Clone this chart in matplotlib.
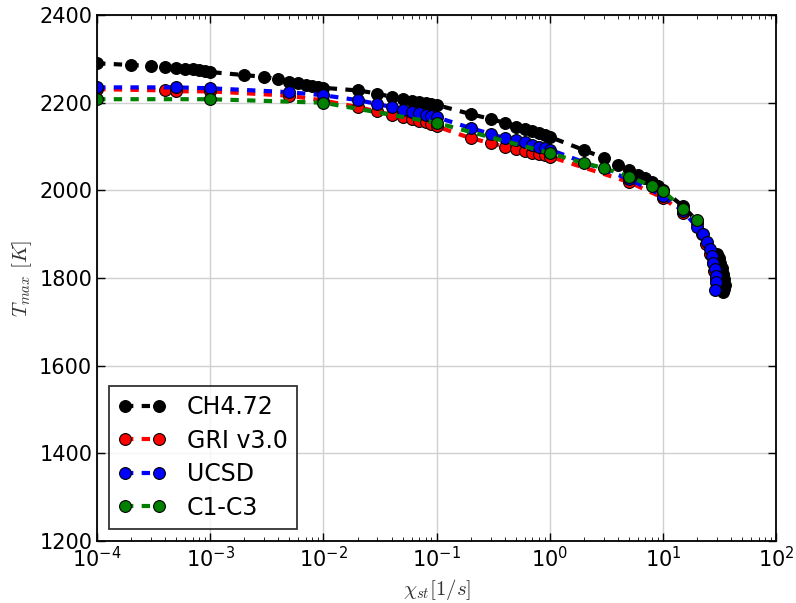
import matplotlib
matplotlib.use('Agg')
import matplotlib.pyplot as plt

plt.rcParams['xtick.direction'] = 'in'
plt.rcParams['ytick.direction'] = 'in'
plt.rcParams['xtick.top'] = True
plt.rcParams['ytick.right'] = True
plt.rcParams['lines.scale_dashes'] = False
plt.rcParams['mathtext.fontset'] = 'cm'

# CH4.72
chi_ch4 = [1e-4, 2e-4, 3e-4, 4e-4, 5e-4, 6e-4, 7e-4, 8e-4, 9e-4, 1e-3,
           2e-3, 3e-3, 4e-3, 5e-3, 6e-3, 7e-3, 8e-3, 9e-3, 1e-2,
           2e-2, 3e-2, 4e-2, 5e-2, 6e-2, 7e-2, 8e-2, 9e-2, 1e-1,
           0.2, 0.3, 0.4, 0.5, 0.6, 0.7, 0.8, 0.9, 1.0,
           2, 3, 4, 5, 6, 7, 8, 9, 10,
           15, 20, 30, 31, 32, 33, 34, 34.5, 35, 34.5, 34]
T_ch4 = [2290, 2286, 2284, 2281, 2279, 2278, 2276, 2275, 2273, 2270,
         2263, 2259, 2253, 2248, 2244, 2241, 2238, 2236, 2234,
         2228, 2221, 2213, 2208, 2204, 2202, 2199, 2197, 2195,
         2174, 2163, 2154, 2145, 2140, 2135, 2131, 2126, 2122,
         2092, 2074, 2058, 2046, 2036, 2028, 2020, 2010, 2001,
         1964, 1930, 1855, 1845, 1834, 1822, 1810, 1797, 1785, 1774, 1768]

# GRI v3.0
chi_gri = [1e-4, 4e-4, 5e-4, 1e-3, 5e-3, 1e-2,
           2e-2, 3e-2, 4e-2, 5e-2, 6e-2, 7e-2, 8e-2, 9e-2, 1e-1,
           0.2, 0.3, 0.4, 0.5, 0.6, 0.7, 0.8, 0.9, 1.0,
           5, 10, 15, 20, 22, 24, 26, 27.5, 28.5, 29.3, 29.5]
T_gri = [2231, 2228, 2226, 2226, 2216, 2205,
         2190, 2180, 2172, 2167, 2163, 2159, 2155, 2151, 2146,
         2119, 2108, 2099, 2094, 2090, 2086, 2083, 2080, 2077,
         2019, 1983, 1949, 1925, 1900, 1878, 1855, 1835, 1815, 1800, 1790]

# UCSD
chi_ucsd = [1e-4, 5e-4, 1e-3, 5e-3, 1e-2,
            2e-2, 3e-2, 4e-2, 5e-2, 6e-2, 7e-2, 8e-2, 9e-2, 1e-1,
            0.2, 0.3, 0.4, 0.5, 0.6, 0.7, 0.8, 0.9, 1.0,
            5, 10, 15, 20, 22.5, 24.5, 26, 27, 27.7, 28.8, 29.4, 29.4, 28.8]
T_ucsd = [2235, 2235, 2233, 2224, 2217,
          2206, 2197, 2190, 2183, 2179, 2176, 2172, 2169, 2167,
          2142, 2129, 2119, 2115, 2110, 2104, 2100, 2096, 2093,
          2026, 1987, 1953, 1916, 1900, 1882, 1866, 1850, 1834, 1821, 1805, 1790, 1773]

# C1-C3
chi_c1c3 = [1e-4, 1e-3, 1e-2, 1e-1, 1.0, 2, 3, 5, 8, 10, 15, 20]
T_c1c3 = [2208, 2208, 2200, 2154, 2085, 2062, 2051, 2031, 2010, 1999, 1958, 1933]

fig = plt.figure(figsize=(7.96, 6.03), dpi=100)
ax = fig.add_axes([0.122, 0.103, 0.853, 0.872])

kw = dict(linestyle='--', dashes=(6, 6), marker='o', linewidth=3,
          markersize=8.5, markeredgecolor='k', markeredgewidth=0.8)
ax.plot(chi_ch4, T_ch4, color='k', label='CH4.72', **kw)
ax.plot(chi_gri, T_gri, color='r', label='GRI v3.0', **kw)
ax.plot(chi_ucsd, T_ucsd, color='b', label='UCSD', **kw)
ax.plot(chi_c1c3, T_c1c3, color='g', label='C1-C3', **kw)

ax.set_xscale('log')
ax.set_xlim(1e-4, 1e2)
ax.set_ylim(1200, 2400)
ax.grid(True, color='#d0d0d0', linewidth=1)
ax.set_axisbelow(True)
ax.tick_params(labelsize=15, length=6, width=1)
ax.tick_params(which='minor', length=3)
for s in ax.spines.values():
    s.set_linewidth(1.3)

ax.set_xlabel(r'$\chi_{st} [1/s]$', fontsize=15, color='#333333')
ax.set_ylabel(r'$T_{max}\ [K]$', fontsize=15, color='#333333')

leg = ax.legend(loc='lower left', numpoints=2, fontsize=17, fancybox=False,
                borderaxespad=0.5, handlelength=2.0, handletextpad=0.9,
                labelspacing=0.4)
leg.get_frame().set_edgecolor('k')
leg.get_frame().set_linewidth(1.3)

fig.savefig('out.png', dpi=100, facecolor='white')
